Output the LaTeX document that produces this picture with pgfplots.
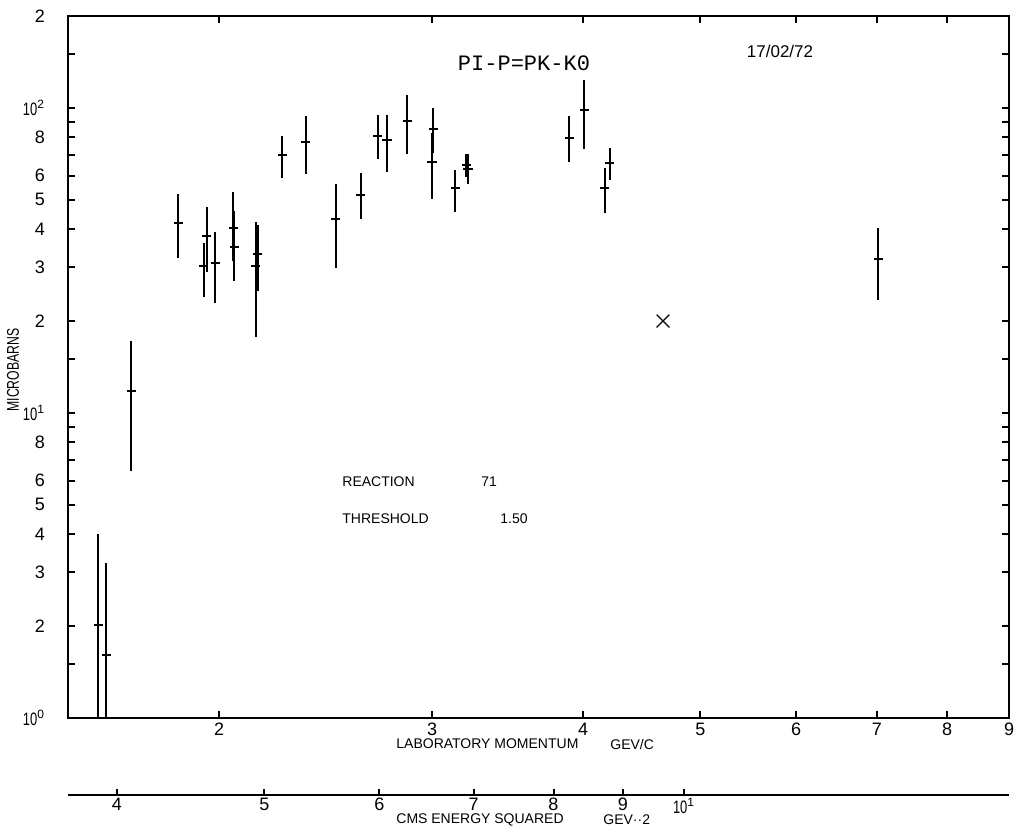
\documentclass[border=0pt]{standalone}
\usepackage{fontspec}
\setmainfont{Liberation Sans}
\newfontfamily\titlefont{Liberation Mono}
\newfontfamily\narrowfont[FakeStretch=0.72]{Liberation Sans}
\usepackage{pgfplots}
\pgfplotsset{compat=1.18}
\usepackage{pgfplotstable}

% cross section (microbarns) vs laboratory momentum (GeV/c): value, lower and upper end of the error bar
\pgfplotstableread{
x      y     lo    hi
1.589  2.01  0.5   4.01
1.614  1.61  0.5   3.22
1.692  11.8  6.43  17.2
1.851  42.0  32.1  52.3
1.942  30.2  23.9  36.1
1.954  38.1  29.0  47.3
1.986  31.1  23.0  39.2
2.055  40.3  31.4  53.1
2.058  35.1  27.0  45.8
2.145  30.2  17.8  42.2
2.153  33.1  25.1  41.3
2.256  70.3  58.8  80.9
2.358  77.3  60.9  93.7
2.497  43.1  29.9  56.4
2.619  51.9  43.1  61.3
2.706  80.9  67.8  94.8
2.754  78.3  61.8  94.8
2.862  90.2  70.4  110.3
3.008  85.5  71.3  99.7
3.000  66.6  50.4  83.0
3.136  54.4  45.7  62.4
3.202  64.8  59.5  70.8
3.213  63.2  56.1  70.4
3.896  79.9  66.4  93.7
4.009  98.4  73.1  123.5
4.167  54.4  45.1  63.4
4.207  65.8  57.9  73.7
7.019  31.9  23.4  40.3
}\sigdata

% powers of ten in the tick labels, set with a narrow "10"
\newcommand\tenpow[1]{{\narrowfont 10}\textsuperscript{#1}}

\begin{document}
\begin{tikzpicture}
\begin{axis}[name=a, scale only axis, width=470.5pt, height=351pt,
  xmode=log, ymode=log, xmin=1.5, xmax=9, ymin=1, ymax=200,
  axis line style={line width=1pt},
  xtick={2,3,4,5,6,7,8,9}, xticklabels={2,3,4,5,6,7,8,9},
  ytick={1,1.5,2,3,4,5,6,7,8,9,10,15,20,30,40,50,60,70,80,90,100,150,200},
  yticklabels={\tenpow{0},,2,3,4,5,6,,8,,\tenpow{1},,2,3,4,5,6,,8,,\tenpow{2},,2},
  xminorticks=false, yminorticks=false,
  tick align=inside, major tick length=3.5pt,
  every tick/.style={black, line width=1pt},
  tick label style={font=\fontsize{9}{10}\selectfont},
  yticklabel style={xshift=-8pt},
  xticklabel style={yshift=1pt},
]
\addplot[black, only marks, mark=-, mark size=2.3pt, mark options={line width=1pt},
  error bars/.cd, y dir=both, y explicit, error mark=none,
  error bar style={line width=1pt}]
  table[x=x, y=y, y error plus expr=\thisrow{hi}-\thisrow{y},
        y error minus expr=\thisrow{y}-\thisrow{lo}] {\sigdata};
\addplot[black, only marks, mark=x, mark size=4.5pt, mark options={line width=0.6pt}]
  coordinates {(4.657,20)};
\end{axis}

% second scale: CMS energy squared, ticks at the momenta giving s = 4 ... 10 GeV^2
\begin{axis}[at={(a.south west)}, anchor=south west, yshift=-38.5pt,
  scale only axis, width=470.5pt, height=1pt,
  xmode=log, xmin=1.5, xmax=9, ymin=0, ymax=1,
  axis x line*=bottom, axis y line=none,
  x axis line style={-, line width=1pt},
  xtick={1.64615,2.18050,2.71427,3.24776,3.78108,4.31429,4.84743},
  xticklabels={4,5,6,7,8,9,\tenpow{1}},
  xminorticks=false, tick align=inside, major tick length=3pt,
  every tick/.style={black, line width=1pt},
  tick label style={font=\fontsize{9}{10}\selectfont},
  xticklabel style={yshift=2pt},
]
\end{axis}

\begin{scope}[shift={([xshift=-34pt,yshift=359pt]a.south west)}, x=0.5pt, y=-0.5pt]
  \node[font=\titlefont\fontsize{11}{12}\selectfont] at (524,63) {PI-P=PK-K0};
  \node[font=\fontsize{8.5}{10}\selectfont] at (780,51) {17/02/72};
  \node[font=\narrowfont\fontsize{8.5}{10}\selectfont, rotate=90, inner sep=0pt] at (13,370) {MICROBARNS};
  \begin{scope}[every node/.style={font=\fontsize{7}{8}\selectfont, inner sep=0pt}]
    \node[anchor=west] at (342,482) {REACTION};
    \node[anchor=west] at (481,482) {71};
    \node[anchor=west] at (342,519) {THRESHOLD};
    \node[anchor=west] at (500,519) {1.50};
    \node[anchor=west] at (396,744) {LABORATORY MOMENTUM};
    \node[anchor=west] at (610,744) {GEV/C};
    \node[anchor=west] at (396,820) {CMS ENERGY SQUARED};
    \node[anchor=west] at (603,820) {GEV··2};
  \end{scope}
\end{scope}

\pgfresetboundingbox
\begin{scope}[shift={([xshift=-34pt,yshift=359pt]a.south west)}, x=0.5pt, y=-0.5pt]
  \path (0,0) rectangle (1021,834);
\end{scope}
\end{tikzpicture}
\end{document}
